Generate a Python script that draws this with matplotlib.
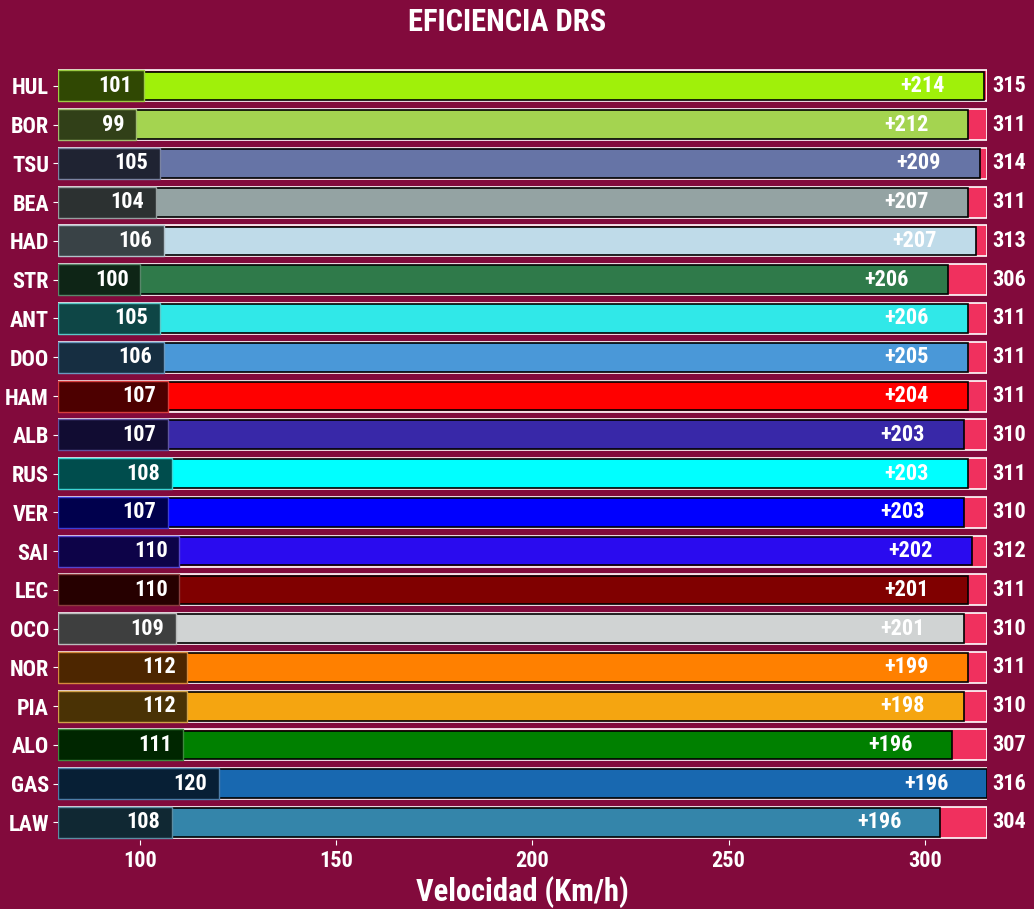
import matplotlib
matplotlib.use("Agg")
import matplotlib.pyplot as plt
import matplotlib.colors as mcolors
from matplotlib import font_manager
import numpy as np

# pick a narrow bold face if one is installed (the original uses Impact)
names = {f.name for f in font_manager.fontManager.ttflist}
narrow = [n for n in ["Liberation Sans Narrow", "Roboto Condensed", "Open Sans Condensed",
                      "DejaVu Sans Condensed", "Noto Sans Condensed"] if n in names]
plt.rcParams['font.family'] = narrow + ['DejaVu Sans']
plt.rcParams['font.weight'] = 'bold'
plt.rcParams['font.stretch'] = 'condensed'

drivers = ["HUL", "BOR", "TSU", "BEA", "HAD", "STR", "ANT", "DOO", "HAM", "ALB",
           "RUS", "VER", "SAI", "LEC", "OCO", "NOR", "PIA", "ALO", "GAS", "LAW"]
v_min = [101, 99, 105, 104, 106, 100, 105, 106, 107, 107,
         108, 107, 110, 110, 109, 112, 112, 111, 120, 108]
v_max = [315, 311, 314, 311, 313, 306, 311, 311, 311, 310,
         311, 310, 312, 311, 310, 311, 310, 307, 316, 304]
team_colors = ["#a0f00a", "#a4d450", "#6674a6", "#94a3a3", "#bfdbe9",
               "#2f7a4a", "#30e8e8", "#4a98d8", "#ff0000", "#3828a8",
               "#00ffff", "#0000ff", "#2a0bef", "#800000", "#d0d3d3",
               "#ff8000", "#f5a510", "#008000", "#1868b0", "#3485aa"]

BG = "#820a3c"
BAND = "#f0305e"

fig, ax = plt.subplots(figsize=(10.34, 9.09), dpi=100)
fig.patch.set_facecolor(BG)
ax.set_facecolor(BG)
fig.subplots_adjust(left=0.056, right=0.955, top=0.929, bottom=0.076)

xmin = min(v_min) - 20
xmax = max(v_max)
y = np.arange(len(drivers))

for i, (lo, hi, c) in enumerate(zip(v_min, v_max, team_colors)):
    rgb = np.array(mcolors.to_rgb(c))
    dark = rgb * 0.3
    edge = rgb * 0.6 + 0.4 * np.array([0.6, 0.6, 0.6])
    ax.barh(i, xmax - xmin, left=xmin, height=0.8, color=BAND,
            edgecolor="white", linewidth=1.2, zorder=1)
    ax.barh(i, hi - lo, left=lo, height=0.74, color=c,
            edgecolor="black", linewidth=1.2, zorder=2)
    ax.barh(i, lo - xmin, left=xmin, height=0.8, color=dark,
            edgecolor=edge, linewidth=1.0, zorder=3)
    ax.text(lo - 3, i, str(lo), ha="right", va="center", color="white",
            fontsize=16, fontweight="bold", zorder=4)
    ax.text(hi - 10, i, f"+{hi - lo}", ha="right", va="center", color="white",
            fontsize=16, fontweight="bold", zorder=4)
    ax.text(1.005, i, str(hi), ha="left", va="center", color="white",
            fontsize=16, fontweight="bold", transform=ax.get_yaxis_transform())

ax.set_xlim(xmin, xmax)
ax.set_ylim(len(drivers) - 0.55, -0.55)
ax.set_yticks(y)
ax.set_yticklabels(drivers, fontsize=16, fontweight="bold", color="white")
ax.set_xticks([100, 150, 200, 250, 300])
ax.tick_params(axis="x", colors="white", labelsize=16)
ax.tick_params(axis="y", colors="white", pad=3)
for lbl in ax.get_xticklabels():
    lbl.set_fontweight("bold")
for s in ax.spines.values():
    s.set_visible(False)

ax.set_xlabel("Velocidad (Km/h)", fontsize=22, fontweight="bold", color="white", labelpad=3)
fig.text(0.49, 0.992, "EFICIENCIA DRS", ha="center", va="top", fontsize=22,
         fontweight="bold", color="white")

fig.savefig("out.png", dpi=100, facecolor=BG)
